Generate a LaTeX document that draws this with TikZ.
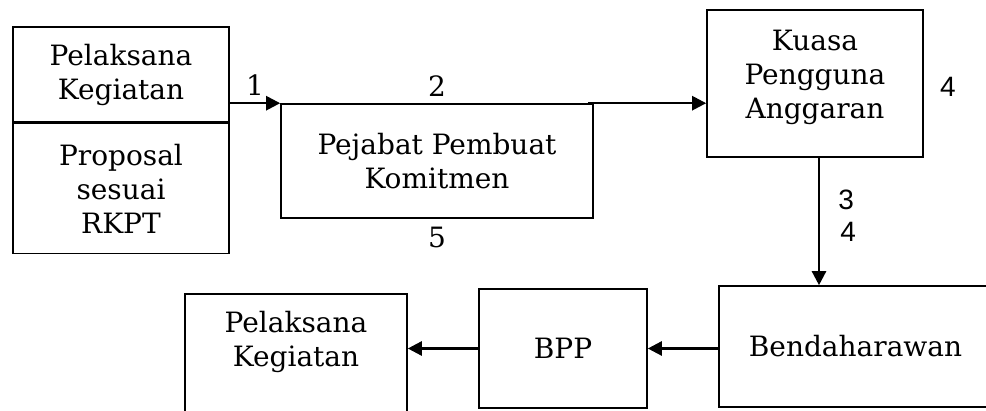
\documentclass[tikz,border=0pt]{standalone}
\usepackage{fontspec}
\setmainfont{DejaVu Serif}
\newfontfamily\numfont{Liberation Sans}
\usepackage{tikz}
\usetikzlibrary{positioning,arrows.meta}
\tikzset{
  flow-box/.style={draw=black,line width=1.6pt,align=center,inner sep=0pt,
    font=\fontsize{28}{34}\selectfont},
  flow-arrow/.style={-{Triangle[length=14pt,width=14pt]},line width=2.5pt},
  step-num/.style={inner sep=0pt,font=\fontsize{28}{34}\selectfont},
  step-num-sans/.style={inner sep=0pt,font=\numfont\fontsize{28}{34}\selectfont},
}
\begin{document}
\begin{tikzpicture}[x=1pt,y=-1pt]
  \useasboundingbox (0,0) rectangle (986,411);
  \clip (0,0) rectangle (986,411);
  % baris atas
  \node[flow-box,minimum width=216pt,minimum height=95pt] (pk-top) at (121,74.5) {Pelaksana\\Kegiatan};
  \node[flow-box,minimum width=216pt,minimum height=130pt,below=0pt of pk-top] (proposal) {Proposal\\sesuai\\RKPT};
  \node[flow-box,minimum width=312pt,minimum height=114pt] (ppk) at (437,161) {Pejabat Pembuat\\Komitmen};
  \node[flow-box,minimum width=216pt,minimum height=147pt,text depth=19pt] (kpa) at (815,83.5) {Kuasa\\Pengguna\\Anggaran};
  % baris bawah
  \node[flow-box,minimum width=273pt,minimum height=121pt] (bend) at (855.5,346.5) {Bendaharawan};
  \node[flow-box,minimum width=168pt,minimum height=119pt] (bpp) at (563,348.5) {BPP};
  \node[flow-box,minimum width=222pt,anchor=north,text height=73pt,text depth=150pt] (pk-bottom) at (296,293) {Pelaksana\\Kegiatan};

  \draw[flow-arrow] (pk-top.east |- ppk.north) -- node[step-num,above=6pt] (n1) {1} (ppk.north west);
  \draw[flow-arrow] ([xshift=-6pt]ppk.north east) -- (ppk.north east -| kpa.west);
  \node[step-num,above=6pt of ppk.north] (n2) {2};
  \node[step-num,below=8pt of ppk.south] (n5) {5};
  \node[step-num-sans,right=16pt of {[yshift=-3pt]kpa.east}] (n4) {4};
  \draw[flow-arrow] ([xshift=4pt]kpa.south) -- ([xshift=4pt]kpa.south |- bend.north)
    node[step-num-sans,pos=0.33,right=18pt] (n3) {3}
    node[step-num-sans,pos=0.58,right=20pt] (n4b) {4};
  \draw[flow-arrow] (bend.west |- bpp.east) -- (bpp.east);
  \draw[flow-arrow] (bpp.west) -- (bpp.west -| pk-bottom.east);
\end{tikzpicture}
\end{document}
